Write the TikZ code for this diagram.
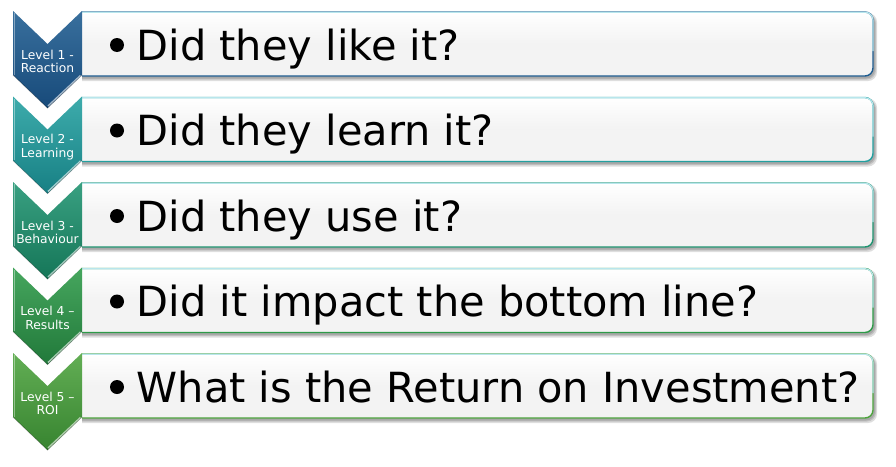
\documentclass[tikz,border=0pt]{standalone}
\usepackage{fontspec}
\setmainfont{DejaVu Sans}
\begin{document}
\begin{tikzpicture}[x=1pt,y=-1pt,
  chevtext/.style={text=white,font=\fontsize{12.3}{13.5}\selectfont,align=center,inner sep=0pt},
  boxtext/.style={text=black,font=\fontsize{41.5}{50}\selectfont,anchor=base west,inner sep=0pt},
  bulletdot/.style={circle,fill=black,minimum size=14pt,inner sep=0pt},
  shadowbox/.style={fill=black,opacity=0.13,rounded corners=9pt}
]
\definecolor{cA}{HTML}{1E5C90}\definecolor{cAd}{HTML}{174A7A}
\definecolor{cB}{HTML}{23A0A0}\definecolor{cBd}{HTML}{178084}
\definecolor{cC}{HTML}{1E9370}\definecolor{cCd}{HTML}{157658}
\definecolor{cD}{HTML}{2D9A48}\definecolor{cDd}{HTML}{21793A}
\definecolor{cE}{HTML}{4DA33D}\definecolor{cEd}{HTML}{378430}
\definecolor{topline}{HTML}{B8E6EC}
\definecolor{boxfill}{HTML}{F3F3F3}
\useasboundingbox (0,0) rectangle (896,466);
\fill[white] (0,0) rectangle (896,466);
\foreach \i/\t/\c/\lab/\txt in {%
  1/11/cA/{Level 1 -\\Reaction}/{Did they like it?},
  2/96.5/cB/{Level 2 -\\Learning}/{Did they learn it?},
  3/182/cC/{Level 3 -\\Behaviour}/{Did they use it?},
  4/267.5/cD/{Level 4 –\\Results}/{Did it impact the bottom line?},
  5/353/cE/{Level 5 –\\ROI}/{What is the Return on Investment?}} {
  % box shadow
  \begin{scope}
    \clip (82,\t+2) rectangle (896,\t+80);
    \fill[shadowbox] (70,\t+2) rectangle (877,\t+70);
    \fill[shadowbox] (70,\t+3) rectangle (876,\t+68.5);
    \fill[shadowbox] (70,\t+3) rectangle (875,\t+67.5);
  \end{scope}
  % box
  \begin{scope}
    \clip (82,\t-2) rectangle (896,\t+80);
    \shade[rounded corners=8pt,top color=white,bottom color=boxfill,middle color=boxfill] (70,\t+1) rectangle (873,\t+65);
    \draw[rounded corners=8pt,\c,line width=1.4pt] (70,\t+1) rectangle (873,\t+65);
    \draw[rounded corners=8pt,topline,line width=1.2pt] (70,\t+1.2) -- (873,\t+1.2) -- (873,\t+40);
  \end{scope}
  % chevron
  \shade[top color=\c!88!white,bottom color=\c d]
    (13,\t) -- (47.5,\t+33) -- (82,\t) -- (82,\t+64) -- (47.5,\t+97) -- (13,\t+64) -- cycle;
  \draw[white,opacity=0.4,line width=1.5pt] (14.5,\t+2) -- (14.5,\t+63.5);
  \draw[white,opacity=0.6,line width=1.5pt] (80.5,\t+64.5) -- (48,\t+95);
  \draw[black,opacity=0.25,line width=0.8pt] (13,\t+64) -- (47.5,\t+97) -- (82,\t+64);
  \node[chevtext] (c\i) at (47.5,\t+50.5) {\lab};
  \node[bulletdot] (b\i) at (117,\t+34) {};
  \node[boxtext] (t\i) at (136.5,\t+49) {\txt};
}
\end{tikzpicture}
\end{document}
